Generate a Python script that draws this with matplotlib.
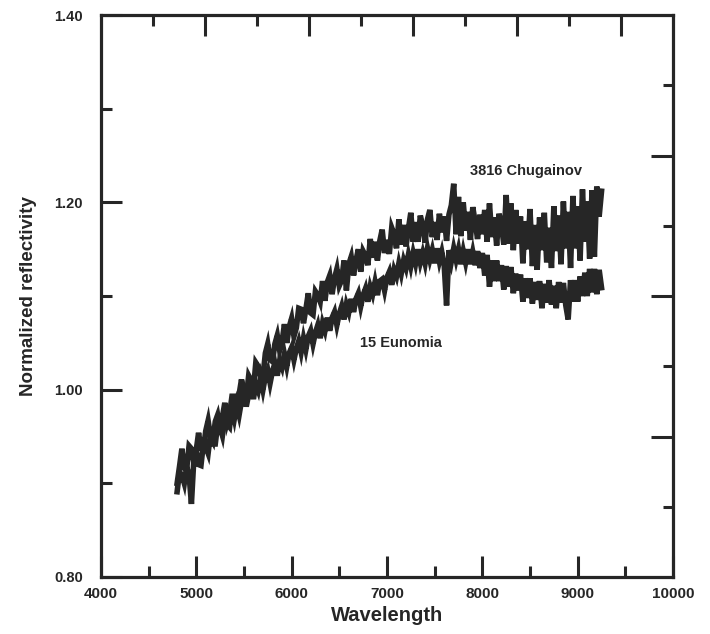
import matplotlib
matplotlib.use("Agg")
import matplotlib.pyplot as plt

plt.rcParams['font.family'] = ['Liberation Sans', 'DejaVu Sans']
plt.rcParams['font.weight'] = 'bold'

wavelength = list(range(4800, 9275, 25))

chugainov = [
    0.900, 0.918, 0.937, 0.916, 0.915, 0.940, 0.937, 0.922, 0.935, 0.954,
    0.937, 0.936, 0.956, 0.967, 0.950, 0.945, 0.966, 0.973, 0.958, 0.971,
    0.986, 0.965, 0.974, 0.993, 0.993, 0.976, 0.995, 1.011, 0.992, 0.991,
    1.015, 1.010, 1.000, 1.029, 1.025, 1.014, 1.014, 1.039, 1.049, 1.032,
    1.030, 1.049, 1.058, 1.042, 1.051, 1.070, 1.050, 1.067, 1.076, 1.057,
    1.066, 1.087, 1.086, 1.071, 1.086, 1.103, 1.082, 1.080, 1.105, 1.101,
    1.094, 1.116, 1.095, 1.115, 1.122, 1.102, 1.119, 1.129, 1.111, 1.117,
    1.138, 1.106, 1.134, 1.142, 1.122, 1.138, 1.150, 1.126, 1.148, 1.143,
    1.133, 1.161, 1.141, 1.158, 1.138, 1.159, 1.171, 1.146, 1.160, 1.145,
    1.173, 1.166, 1.151, 1.182, 1.155, 1.176, 1.153, 1.172, 1.189, 1.158,
    1.179, 1.158, 1.186, 1.175, 1.157, 1.182, 1.192, 1.163, 1.179, 1.160,
    1.188, 1.168, 1.185, 1.159, 1.187, 1.197, 1.220, 1.166, 1.206, 1.164,
    1.200, 1.170, 1.190, 1.160, 1.195, 1.179, 1.161, 1.187, 1.166, 1.192,
    1.158, 1.199, 1.163, 1.184, 1.154, 1.188, 1.177, 1.155, 1.208, 1.156,
    1.199, 1.149, 1.192, 1.156, 1.185, 1.135, 1.180, 1.150, 1.193, 1.132,
    1.176, 1.128, 1.184, 1.149, 1.189, 1.136, 1.173, 1.130, 1.196, 1.148,
    1.186, 1.134, 1.201, 1.151, 1.190, 1.130, 1.207, 1.151, 1.196, 1.138,
    1.214, 1.158, 1.201, 1.140, 1.213, 1.142, 1.217, 1.185, 1.212,
]

eunomia = [
    0.891, 0.912, 0.909, 0.900, 0.918, 0.909, 0.878, 0.925, 0.935, 0.920,
    0.919, 0.942, 0.939, 0.932, 0.953, 0.942, 0.942, 0.963, 0.960, 0.951,
    0.970, 0.963, 0.960, 0.981, 0.969, 0.984, 0.973, 0.988, 0.997, 0.982,
    0.995, 1.003, 0.990, 1.006, 0.999, 1.013, 1.000, 1.014, 1.021, 1.007,
    1.020, 1.028, 1.015, 1.031, 1.024, 1.038, 1.025, 1.039, 1.045, 1.032,
    1.044, 1.052, 1.040, 1.055, 1.043, 1.057, 1.063, 1.049, 1.061, 1.069,
    1.055, 1.071, 1.063, 1.077, 1.063, 1.077, 1.083, 1.069, 1.081, 1.089,
    1.075, 1.091, 1.083, 1.097, 1.083, 1.097, 1.103, 1.089, 1.101, 1.108,
    1.094, 1.110, 1.102, 1.115, 1.101, 1.116, 1.118, 1.106, 1.120, 1.126,
    1.112, 1.128, 1.121, 1.135, 1.124, 1.138, 1.130, 1.144, 1.132, 1.146,
    1.135, 1.150, 1.136, 1.146, 1.135, 1.151, 1.139, 1.149, 1.135, 1.151,
    1.137, 1.147, 1.133, 1.090, 1.149, 1.137, 1.151, 1.139, 1.150, 1.134,
    1.148, 1.136, 1.150, 1.134, 1.147, 1.133, 1.148, 1.130, 1.146, 1.122,
    1.144, 1.110, 1.138, 1.116, 1.138, 1.116, 1.133, 1.107, 1.132, 1.110,
    1.131, 1.103, 1.124, 1.106, 1.123, 1.094, 1.119, 1.098, 1.119, 1.092,
    1.115, 1.096, 1.116, 1.087, 1.113, 1.093, 1.117, 1.091, 1.111, 1.087,
    1.115, 1.093, 1.114, 1.090, 1.075, 1.117, 1.094, 1.117, 1.094, 1.121,
    1.100, 1.125, 1.100, 1.129, 1.104, 1.129, 1.102, 1.128, 1.109,
]

x_major = [4000, 5000, 6000, 7000, 8000, 9000, 10000]
x_labels = ['4000', '5000', '6000', '7000', '8000', '9000', '10000']
y_major = [0.80, 1.00, 1.20, 1.40]
y_labels = ['0.80', '1.00', '1.20', '1.40']

ink = '#262626'

fig = plt.figure(figsize=(7.10, 6.34), dpi=100)
ax = fig.add_axes([0.142, 0.090, 0.806, 0.886])

ax.plot(wavelength, chugainov, color=ink, lw=4.0, solid_joinstyle='miter')
ax.plot(wavelength, eunomia, color=ink, lw=4.0, solid_joinstyle='miter')

ax.set_xlim(4000, 10000)
ax.set_ylim(0.80, 1.40)

ax.set_xticks(x_major)
ax.set_xticklabels(x_labels)
ax.set_xticks([4500, 5500, 6500, 7500, 8500, 9500], minor=True)
ax.set_yticks(y_major)
ax.set_yticklabels(y_labels)
ax.set_yticks([0.9, 1.1, 1.3], minor=True)

ax.tick_params(axis='both', which='major', direction='in', length=15, width=2.2,
               color=ink, labelcolor=ink)
ax.tick_params(axis='both', which='minor', direction='in', length=8, width=2.2,
               color=ink)
ax.tick_params(axis='x', which='major', labelsize=11, pad=7)
ax.tick_params(axis='y', which='major', labelsize=10.5, pad=13)
for lab in ax.get_xticklabels() + ax.get_yticklabels():
    lab.set_fontweight('bold')

for sp in ax.spines.values():
    sp.set_linewidth(2.3)
    sp.set_color(ink)

# top axis ticks (11 divisions) and right axis ticks (8 divisions)
axt = ax.twiny()
axt.set_xlim(4000, 10000)
top_pos = [4000 + 6000 / 11 * k for k in range(1, 11)]
axt.set_xticks([p for i, p in enumerate(top_pos) if i % 2 == 1])
axt.set_xticks([p for i, p in enumerate(top_pos) if i % 2 == 0], minor=True)
axt.tick_params(axis='x', which='major', direction='in', length=15, width=2.2,
                color=ink, labeltop=False)
axt.tick_params(axis='x', which='minor', direction='in', length=8, width=2.2,
                color=ink)
for sp in axt.spines.values():
    sp.set_visible(False)

axr = ax.twinx()
axr.set_ylim(0.80, 1.40)
right_pos = [0.80 + 0.075 * k for k in range(1, 8)]
axr.set_yticks([p for i, p in enumerate(right_pos) if i % 2 == 1])
axr.set_yticks([p for i, p in enumerate(right_pos) if i % 2 == 0], minor=True)
axr.tick_params(axis='y', which='major', direction='in', length=16, width=2.2,
                color=ink, labelright=False)
axr.tick_params(axis='y', which='minor', direction='in', length=7, width=2.2,
                color=ink)
for sp in axr.spines.values():
    sp.set_visible(False)

ax.set_xlabel('Wavelength', fontsize=14.5, fontweight='bold', color=ink, labelpad=4)
ax.set_ylabel('Normalized reflectivity', fontsize=13.5, fontweight='bold', color=ink,
              labelpad=12)

ax.text(8458, 1.2335, '3816 Chugainov', fontsize=10.5, fontweight='bold', color=ink,
        ha='center', va='center')
ax.text(7147, 1.050, '15 Eunomia', fontsize=10.5, fontweight='bold', color=ink,
        ha='center', va='center')

fig.savefig('out.png', dpi=100)
